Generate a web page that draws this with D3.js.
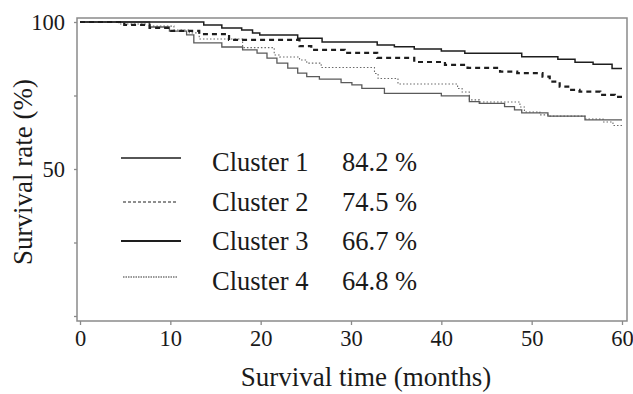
<!DOCTYPE html>
<html>
<head>
<meta charset="utf-8">
<script src="https://cdn.jsdelivr.net/npm/d3@7"></script>
<style>
  body { margin: 0; background: #fff; }
  svg { display: block; font-family: "Liberation Serif", "Times New Roman", serif; }
</style>
</head>
<body>
<script>
// Kaplan-Meier style survival curves, four clusters

// months at which each step happens, and survival (%) after the step
const c1Time = [0, 13.7, 15.7, 17.9, 19.1, 19.9, 24.1, 26.8, 32.9, 34.8, 37.0, 40.0, 42.6, 48.9, 52.9, 54.8, 56.8, 58.9, 60];
const c1Surv = [100, 99.0, 98.0, 97.3, 96.3, 95.6, 94.5, 93.2, 92.2, 91.6, 90.8, 90.1, 89.4, 88.2, 87.3, 86.3, 85.6, 84.2, 84.2];

const c2Time = [0, 4.9, 7.7, 9.9, 13.2, 16.5, 24.3, 25.6, 29.3, 32.9, 37.0, 40.4, 42.9, 46.5, 48.4, 51.2, 52.0, 53.1, 54.2, 55.3, 57.6, 59.2, 60];
const c2Surv = [100, 99.0, 98.0, 97.0, 95.9, 93.9, 91.8, 90.5, 89.5, 87.8, 86.4, 85.4, 84.4, 83.1, 82.6, 81.4, 79.7, 78.0, 76.9, 76.3, 75.2, 74.5, 74.5];

const c3Time = [0, 7.7, 9.9, 11.8, 12.6, 15.7, 18.0, 19.6, 20.7, 21.8, 23.0, 24.1, 25.1, 26.5, 28.9, 30.1, 31.2, 33.7, 40.0, 43.1, 44.2, 47.0, 48.1, 48.9, 51.8, 55.9, 60];
const c3Surv = [100, 98.3, 96.9, 95.6, 92.9, 91.5, 90.5, 89.4, 87.7, 86.0, 84.3, 82.6, 81.4, 80.6, 79.4, 78.6, 77.4, 75.7, 74.9, 72.9, 72.3, 71.2, 70.1, 69.1, 68.0, 66.7, 66.7];

const c4Time = [0, 4.3, 7.7, 10.4, 12.1, 13.2, 18.0, 21.5, 22.1, 24.3, 25.1, 26.7, 32.6, 33.0, 35.2, 41.8, 42.3, 43.1, 44.2, 48.7, 49.2, 50.9, 51.8, 55.9, 57.9, 59.0, 60];
const c4Surv = [100, 99.3, 98.6, 97.3, 96.3, 94.2, 91.3, 88.8, 88.1, 87.1, 86.0, 84.5, 82.5, 80.8, 78.9, 77.4, 76.2, 73.5, 72.8, 71.1, 69.4, 68.4, 68.0, 67.0, 66.0, 64.8, 64.8];

const clusterNames = ["Cluster 1", "Cluster 2", "Cluster 3", "Cluster 4"];
const finalRates = ["84.2 %", "74.5 %", "66.7 %", "64.8 %"];

const xTicks = [0, 10, 20, 30, 40, 50, 60];
const yTicks = [0, 25, 50, 75, 100];
const yLabelled = [50, 100];

const W = 633, H = 394;

const svg = d3.select("body").append("svg")
  .attr("width", W)
  .attr("height", H);

// plot box edges
const box = { left: 77, right: 627, top: 18, bottom: 321 };

const x = d3.scaleLinear().domain([0, 60]).range([80, 622]);
const y = d3.scaleLinear().domain([0, 100]).range([316, 22]);

// line styles per cluster
const styles = [
  { stroke: "#1e1e1e", width: 1.5, dash: null },
  { stroke: "#1e1e1e", width: 2.2, dash: "5,4" },
  { stroke: "#5a5a5a", width: 1.3, dash: null },
  { stroke: "#6a6a6a", width: 1.1, dash: "1.5,2" }
];
const legendDash = [null, "3,2", null, "1.5,1"];
const legendWidth = [1.5, 1.2, 2, 1.1];

// axes
const xAxis = d3.axisBottom(x)
  .tickValues(xTicks)
  .tickSize(4)
  .tickSizeOuter(0)
  .tickPadding(5);

const yAxis = d3.axisLeft(y)
  .tickValues(yTicks)
  .tickSize(3)
  .tickSizeOuter(0)
  .tickPadding(9)
  .tickFormat(d => yLabelled.includes(d) ? d : "");

const gx = svg.append("g")
  .attr("transform", "translate(0," + box.bottom + ")")
  .call(xAxis);

const gy = svg.append("g")
  .attr("transform", "translate(" + box.left + ",0)")
  .call(yAxis);

[gx, gy].forEach(g => {
  g.select(".domain").remove();
  g.selectAll(".tick line").attr("stroke", "#8a8a8a").attr("stroke-width", 1.3);
  g.selectAll(".tick text")
    .attr("fill", "#1a1a1a")
    .style("font-size", "22.5px")
    .style("font-family", "Liberation Serif");
});

// frame
svg.append("rect")
  .attr("x", box.left)
  .attr("y", box.top)
  .attr("width", box.right - box.left)
  .attr("height", box.bottom - box.top)
  .attr("fill", "none")
  .attr("stroke", "#8a8a8a")
  .attr("stroke-width", 1.5);

// curves
const series = [
  c1Time.map((t, i) => ({ t: t, s: c1Surv[i] })),
  c2Time.map((t, i) => ({ t: t, s: c2Surv[i] })),
  c3Time.map((t, i) => ({ t: t, s: c3Surv[i] })),
  c4Time.map((t, i) => ({ t: t, s: c4Surv[i] }))
];

const line = d3.line()
  .x(d => x(d.t))
  .y(d => y(d.s))
  .curve(d3.curveStepAfter);

// draw lower curves first so the top ones sit over them
[3, 2, 1, 0].forEach(i => {
  svg.append("path")
    .datum(series[i])
    .attr("d", line)
    .attr("fill", "none")
    .attr("stroke", styles[i].stroke)
    .attr("stroke-width", styles[i].width)
    .attr("stroke-dasharray", styles[i].dash);
});

// legend
const legendTop = 171, legendStep = 39.5;
const legendLineY = [158, 202, 241, 277];

clusterNames.forEach((name, i) => {
  svg.append("line")
    .attr("x1", i % 2 ? 123 : 121)
    .attr("x2", i % 2 ? 177 : 181)
    .attr("y1", legendLineY[i])
    .attr("y2", legendLineY[i])
    .attr("stroke", i === 3 ? "#333" : "#1e1e1e")
    .attr("stroke-width", legendWidth[i])
    .attr("stroke-dasharray", legendDash[i]);

  svg.append("text")
    .attr("x", 212)
    .attr("y", legendTop + i * legendStep)
    .attr("fill", "#1a1a1a")
    .style("font-size", "26.5px")
    .text(name);

  svg.append("text")
    .attr("x", 342)
    .attr("y", legendTop + i * legendStep)
    .attr("fill", "#1a1a1a")
    .style("font-size", "26.5px")
    .text(finalRates[i]);
});

// axis titles
svg.append("text")
  .attr("x", 366)
  .attr("y", 386)
  .attr("text-anchor", "middle")
  .attr("fill", "#1a1a1a")
  .style("font-size", "27px")
  .text("Survival time (months)");

svg.append("text")
  .attr("transform", "translate(32,172) rotate(-90)")
  .attr("text-anchor", "middle")
  .attr("fill", "#1a1a1a")
  .style("font-size", "27px")
  .text("Survival rate (%)");
</script>
</body>
</html>
